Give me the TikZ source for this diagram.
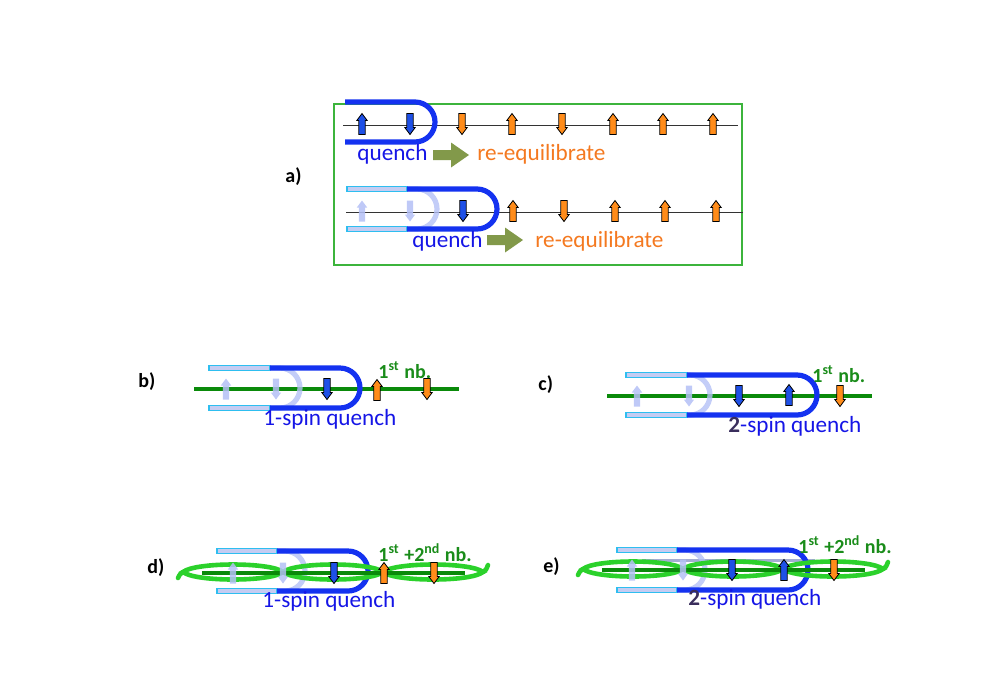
\documentclass[tikz,border=0pt]{standalone}
\usepackage{fontspec}
\setmainfont{Carlito}
\usepackage{xcolor}
\usepackage{tikz}
\usetikzlibrary{calc}
\definecolor{quenchblue}{HTML}{1432F0}
\definecolor{textblue}{HTML}{1515E6}
\definecolor{spinblue}{HTML}{1E50E6}
\definecolor{spinorange}{HTML}{FF8C1A}
\definecolor{textorange}{HTML}{F47920}
\definecolor{olivearrow}{HTML}{82994A}
\definecolor{nngreen}{HTML}{0A8A0A}
\definecolor{chaingreen}{HTML}{2BD12B}
\definecolor{labelgreen}{HTML}{1A8C1A}
\definecolor{barfill}{HTML}{C5CCF2}
\definecolor{barcyan}{HTML}{2EBEF0}
\definecolor{ghostblue}{HTML}{B4C0F6}
\definecolor{framegreen}{HTML}{3CB43C}
\definecolor{twodark}{HTML}{3A2E5C}

% spin arrows: x, y (centre), style
\newcommand{\spinup}[3]{\draw[#3] ({#1-3.2},{#2+10.5}) -- ({#1+3.2},{#2+10.5}) -- ({#1+3.2},{#2-3.5}) -- ({#1+5.2},{#2-3.5}) -- (#1,{#2-10.5}) -- ({#1-5.2},{#2-3.5}) -- ({#1-3.2},{#2-3.5}) -- cycle;}
\newcommand{\spindown}[3]{\draw[#3] ({#1-3.2},{#2-10.5}) -- ({#1+3.2},{#2-10.5}) -- ({#1+3.2},{#2+3.5}) -- ({#1+5.2},{#2+3.5}) -- (#1,{#2+10.5}) -- ({#1-5.2},{#2+3.5}) -- ({#1-3.2},{#2+3.5}) -- cycle;}
% block arrow between quench and re-equilibrate
\newcommand{\goarrow}[2]{\draw[fill=olivearrow, draw=none] (#1,{#2-5}) -- ({#1+18},{#2-5}) -- ({#1+18},{#2-12.5}) -- ({#1+36},#2) -- ({#1+18},{#2+12.5}) -- ({#1+18},{#2+5}) -- (#1,{#2+5}) -- cycle;}
% second neighbour loops
\newcommand{\nnchain}[2]{%
  \foreach \a in {0,100,200}
    \draw[chainline] ({#1+\a},#2) .. controls ({#1+\a+12},{#2-10}) and ({#1+\a+88},{#2-10}) .. ({#1+\a+100},#2) .. controls ({#1+\a+88},{#2+10}) and ({#1+\a+12},{#2+10}) .. cycle;
  \draw[chainline] (#1,#2) .. controls ({#1-3},{#2+2}) .. ({#1-5},{#2+6});
  \draw[chainline] ({#1+300},#2) .. controls ({#1+303},{#2-2}) .. ({#1+305},{#2-7});}

\begin{document}
\begin{tikzpicture}[x=0.5pt, y=-0.5pt,
  quench/.style={draw=quenchblue, line width=2.6pt},
  ghost/.style={draw=ghostblue, line width=2.6pt, opacity=0.8},
  oldbar/.style={fill=barfill, draw=barcyan, line width=0.6pt},
  spinb/.style={fill=spinblue, draw=black, line width=0.4pt},
  spino/.style={fill=spinorange, draw=black, line width=0.4pt},
  spinghost/.style={fill=ghostblue, draw=none, opacity=0.85},
  chainline/.style={draw=chaingreen, line width=2.3pt, line cap=round},
  nnline/.style={draw=nngreen, line width=2pt},
  qtext/.style={text=textblue, inner sep=0pt, anchor=base west, font=\fontsize{11.6}{14}\selectfont},
  etext/.style={text=textorange, inner sep=0pt, anchor=base west, font=\fontsize{11.6}{14}\selectfont},
  nbtext/.style={text=labelgreen, inner sep=0pt, anchor=base west, font=\fontsize{10}{12}\selectfont\bfseries},
  panel/.style={inner sep=0pt, anchor=base west, font=\fontsize{10}{12}\selectfont\bfseries}]
  \useasboundingbox (0,0) rectangle (981,693);

  % a) frame
  \draw[framegreen, line width=0.6pt] (334,104) rectangle (742,265);
  \node[panel] (lab-a) at (285,182) {a)};

  % a) first row
  \draw[black!80, line width=0.4pt] (343,125.7) -- (738,125.7);
  \draw[quench] (345,102) -- (415,102) arc[start angle=-90, end angle=90, radius=20] -- (345,142);
  \spinup{362}{124}{spinb}
  \spindown{410}{124}{spinb}
  \spindown{462}{124}{spino}
  \spinup{512}{124}{spino}
  \spindown{562}{124}{spino}
  \spinup{613}{124}{spino}
  \spinup{663}{124}{spino}
  \spinup{713}{124}{spino}
  \node[qtext] (quench-a1) at (357,160) {quench};
  \goarrow{433}{155}
  \node[etext] (equil-a1) at (477,160) {re-equilibrate};

  % a) second row
  \draw[black!80, line width=0.4pt] (346,212) -- (743,212);
  \draw[oldbar] (347,186.8) rectangle (407,191.2);
  \draw[oldbar] (347,226.8) rectangle (407,231.2);
  \draw[ghost] (407,189) -- (417,189) arc[start angle=-90, end angle=90, radius=20] -- (407,229);
  \draw[quench] (407,189) -- (477,189) arc[start angle=-90, end angle=90, radius=20] -- (407,229);
  \spinup{362}{211}{spinghost}
  \spindown{410}{211}{spinghost}
  \spindown{463}{211}{spinb}
  \spinup{513}{211}{spino}
  \spindown{564}{211}{spino}
  \spinup{615}{211}{spino}
  \spinup{665}{211}{spino}
  \spinup{716}{211}{spino}
  \node[qtext] (quench-a2) at (412,247) {quench};
  \goarrow{487}{240}
  \node[etext] (equil-a2) at (535,247) {re-equilibrate};

  % b) 1-spin, first neighbours
  \node[panel] (lab-b) at (138,387) {b)};
  \draw[nnline] (194,389) -- (459,389);
  \draw[oldbar] (209,365.8) rectangle (270,370.2);
  \draw[oldbar] (209,405.8) rectangle (270,410.2);
  \draw[ghost] (270,368) -- (280,368) arc[start angle=-90, end angle=90, radius=20] -- (270,408);
  \draw[quench] (270,368) -- (340,368) arc[start angle=-90, end angle=90, radius=20] -- (270,408);
  \spinup{226}{389}{spinghost}
  \spindown{276}{389}{spinghost}
  \spindown{327}{389}{spinb}
  \spinup{377}{390}{spino}
  \spindown{427}{389}{spino}
  \node[qtext] (quench-b) at (263,425) {1-spin quench};
  \node[nbtext] (nb-b) at (378,378) {1\textsuperscript{st} nb.};

  % c) 2-spin, first neighbours
  \node[panel] (lab-c) at (538,390) {c)};
  \draw[nnline] (607,396) -- (872,396);
  \draw[oldbar] (626,372.8) rectangle (687,377.2);
  \draw[oldbar] (626,412.8) rectangle (687,417.2);
  \draw[ghost] (687,375) -- (690,375) arc[start angle=-90, end angle=90, radius=20] -- (687,415);
  \draw[quench] (687,375) -- (797,375) arc[start angle=-90, end angle=90, radius=20] -- (687,415);
  \spinup{637}{396}{spinghost}
  \spindown{689}{396}{spinghost}
  \spindown{739}{396}{spinb}
  \spinup{789}{395}{spinb}
  \spindown{840}{396}{spino}
  \node[qtext] (quench-c) at (728,432) {\textbf{\textcolor{twodark}{2}}-spin quench};
  \node[nbtext] (nb-c) at (812,382) {1\textsuperscript{st} nb.};

  % d) 1-spin, first and second neighbours
  \node[panel] (lab-d) at (147,573) {d)};
  \draw[oldbar] (217,548.8) rectangle (277,553.2);
  \draw[oldbar] (217,588.8) rectangle (277,593.2);
  \draw[ghost] (277,551) -- (285,551) arc[start angle=-90, end angle=90, radius=20] -- (277,591);
  \draw[quench] (277,551) -- (348,551) arc[start angle=-90, end angle=90, radius=20] -- (277,591);
  \nnchain{183}{572}
  \draw[nnline] (202,573) -- (465,573);
  \spinup{233}{573}{spinghost}
  \spindown{283}{573}{spinghost}
  \spindown{334}{573}{spinb}
  \spinup{384}{573}{spino}
  \spindown{434}{573}{spino}
  \node[qtext] (quench-d) at (262,607) {1-spin quench};
  \node[nbtext] (nb-d) at (378,561) {1\textsuperscript{st} +2\textsuperscript{nd} nb.};

  % e) 2-spin, first and second neighbours
  \node[panel] (lab-e) at (543,572) {e)};
  \draw[ghostblue!70!gray, line width=1.5pt] (642,560) -- (815,560);
  \draw[oldbar] (617,547.8) rectangle (677,552.2);
  \draw[oldbar] (617,587.8) rectangle (677,592.2);
  \draw[ghost] (677,550) -- (685,550) arc[start angle=-90, end angle=90, radius=20] -- (677,590);
  \draw[quench] (677,550) -- (788,550) arc[start angle=-90, end angle=90, radius=20] -- (677,590);
  \nnchain{583}{569}
  \draw[nnline] (602,570) -- (865,570);
  \spinup{632}{570}{spinghost}
  \spindown{683}{570}{spinghost}
  \spindown{732}{570}{spinb}
  \spinup{784}{570}{spinb}
  \spindown{834}{570}{spino}
  \node[qtext] (quench-e) at (688,605) {\textbf{\textcolor{twodark}{2}}-spin quench};
  \node[nbtext] (nb-e) at (798,553) {1\textsuperscript{st} +2\textsuperscript{nd} nb.};
\end{tikzpicture}
\end{document}
